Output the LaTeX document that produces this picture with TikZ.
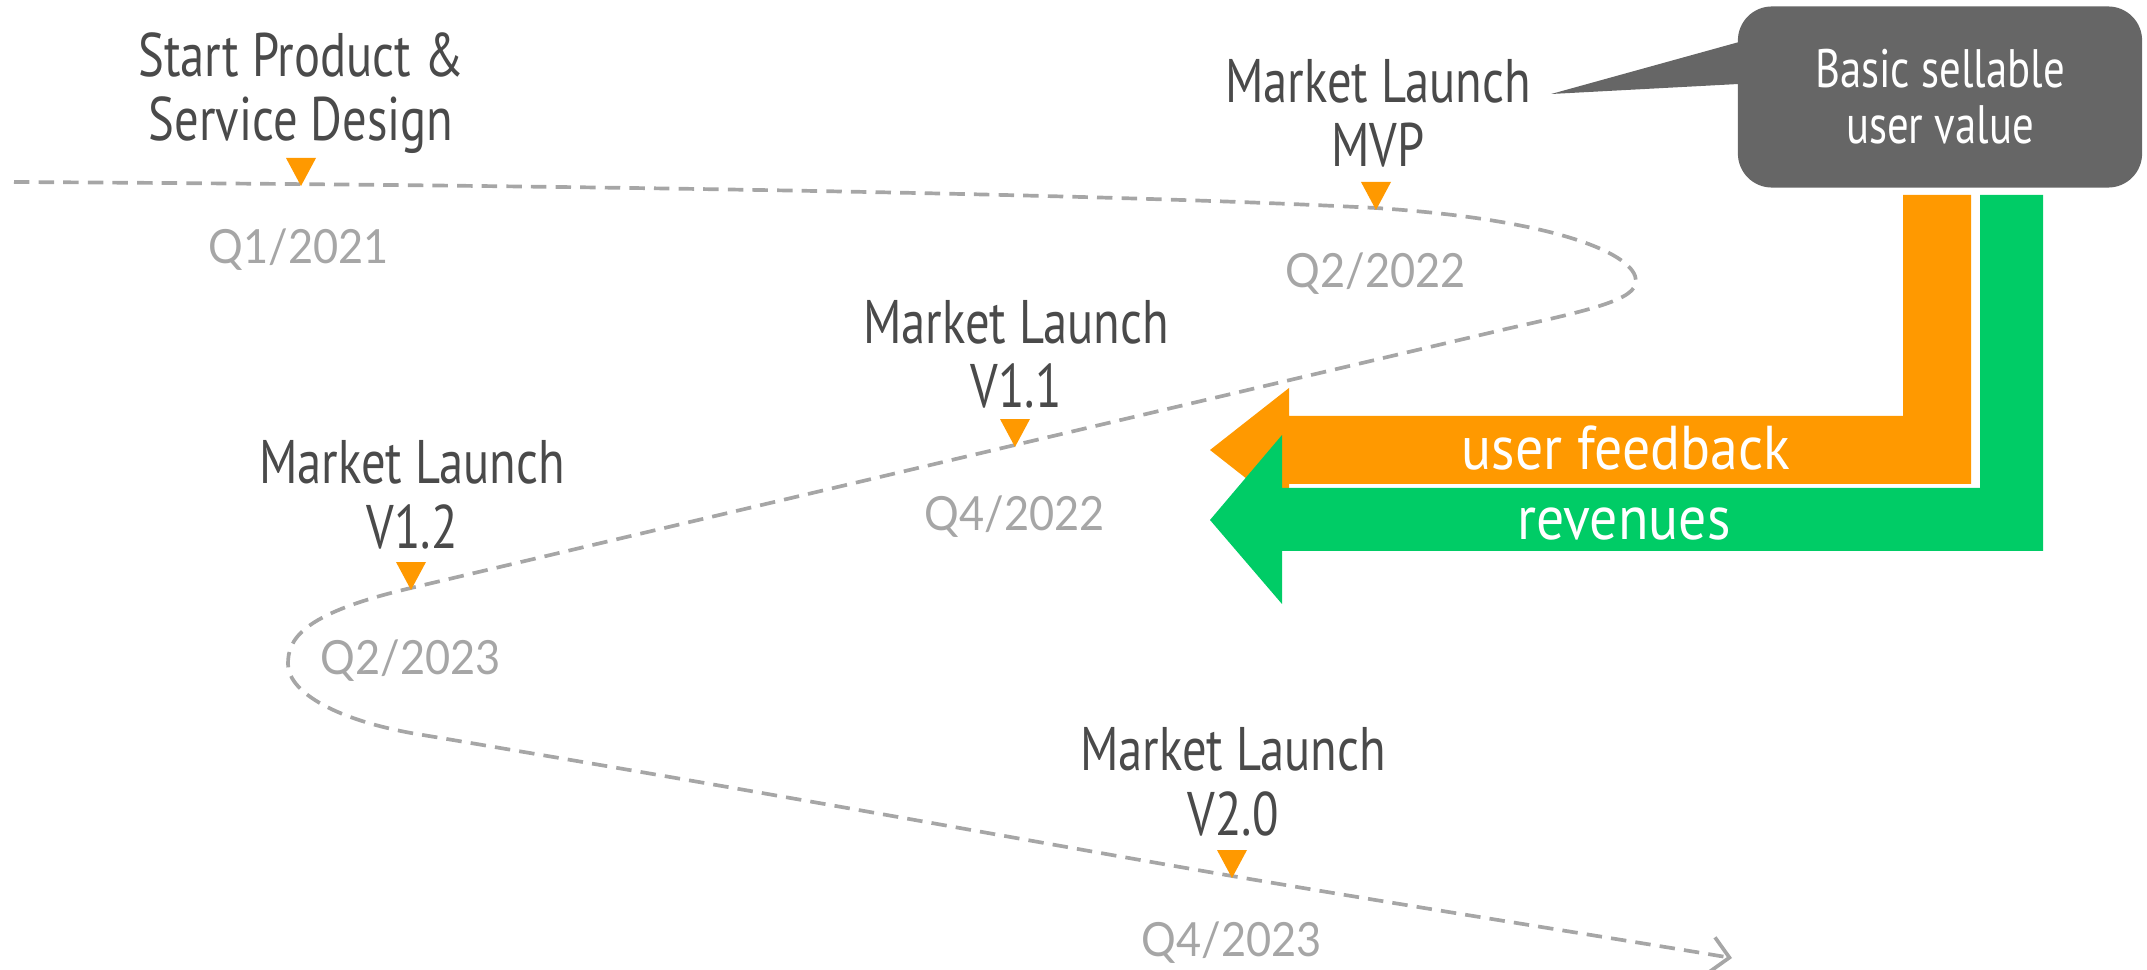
\documentclass[tikz,border=0pt]{standalone}
\usepackage{fontspec}
\setmainfont{PT Sans}[FakeStretch=0.9]
\newfontfamily\labelfont{PT Sans}[FakeStretch=0.79]
\newfontfamily\datefont{Lato}[FakeStretch=0.92]
\usetikzlibrary{arrows.meta}
\definecolor{labelgray}{HTML}{4A4A4A}
\definecolor{dategray}{HTML}{A6A6A6}
\definecolor{markorange}{HTML}{FF9900}
\definecolor{flowgreen}{HTML}{00CC66}
\definecolor{boxgray}{HTML}{666666}

\begin{document}
\begin{tikzpicture}[x=0.01cm,y=-0.01cm,
  milestone/.style={anchor=base, align=center, text=labelgray, inner sep=0pt,
    font=\labelfont\fontsize{17.5}{18.2}\selectfont},
  quarter/.style={anchor=base, text=dategray, inner sep=0pt,
    font=\datefont\fontsize{13.4}{14}\selectfont},
  marker/.style={fill=markorange},
  timeline/.style={draw=dategray, line width=1.05pt, dash pattern=on 4.4pt off 2.6pt},
  flowtext/.style={anchor=base, text=white, inner sep=0pt,
    font=\fontsize{17.6}{20}\selectfont},
  callout/.style={fill=boxgray, rounded corners=0.34cm, minimum width=4.04cm,
    minimum height=1.81cm, text=white, align=center, inner sep=0pt,
    font=\labelfont\fontsize{15.4}{15.9}\selectfont},
]
\useasboundingbox (0,0) rectangle (2147,970);

% milestone points on the timeline
\coordinate (t1) at (301,184);
\coordinate (t2) at (1376,208);
\coordinate (t3) at (1015,445);
\coordinate (t4) at (411,588);
\coordinate (t5) at (1232,876);
\coordinate (tstart) at (14,182);
\coordinate (tend) at (1732,958);

% the winding timeline
\draw[timeline, -{Straight Barb[length=5pt,width=10pt]}]
  (tstart) .. controls (700,186) and (1150,196) .. (t2)
  .. controls (1560,220) and (1636,255) .. (1636,281)
  .. controls (1636,300) and (1590,310) .. (1506,329)
  -- (t3) -- (t4)
  .. controls (300,614) and (288,640) .. (288,664)
  .. controls (288,690) and (330,718) .. (411,733)
  .. controls (800,798) and (1000,836) .. (t5)
  .. controls (1450,913) and (1600,936) .. (tend);

% orange markers
\foreach \t in {t1,t2,t3,t4,t5}
  \fill[marker] ([yshift=-0.02cm]\t) -- ++(-15,-28) -- ++(30,0) -- cycle;

% milestone labels (anchored at the baseline of the last line)
\node[milestone] (start) at (301,141) {Start Product \&\\Service Design};
\node[milestone] (mvp)   at (1378,167) {Market Launch\\MVP};
\node[milestone] (v11)   at (1016,408) {Market Launch\\V1.1};
\node[milestone] (v12)   at (412,548) {Market Launch\\V1.2};
\node[milestone] (v20)   at (1233,835) {Market Launch\\V2.0};

% quarters
\node[quarter] (q1) at (299,264) {Q1/2021};
\node[quarter] (q2) at (1376,288) {Q2/2022};
\node[quarter] (q3) at (1015,531) {Q4/2022};
\node[quarter] (q4) at (411,675) {Q2/2023};
\node[quarter] (q5) at (1232,956) {Q4/2023};

% callout
\node[callout] (value) at (1940,97) {Basic sellable\\user value};
\fill[boxgray] ([shift={(20,-60)}]value.west) -- ([shift={(-186,-3)}]value.west)
  -- ([shift={(20,-14)}]value.west) -- cycle;

% feedback flow
\fill[markorange] (1903,195) -- (1971,195) -- (1971,484) -- (1289,484) -- (1289,512)
  -- (1210,450) -- (1289,388) -- (1289,416) -- (1903,416) -- cycle;
% revenue flow
\fill[flowgreen] (1980,195) -- (2043,195) -- (2043,551) -- (1282,551) -- (1282,604)
  -- (1210,520) -- (1282,435) -- (1282,488) -- (1980,488) -- cycle;

\node[flowtext] (fb)  at (1626,469) {user feedback};
\node[flowtext] (rev) at (1624,540) {revenues};
\end{tikzpicture}
\end{document}
